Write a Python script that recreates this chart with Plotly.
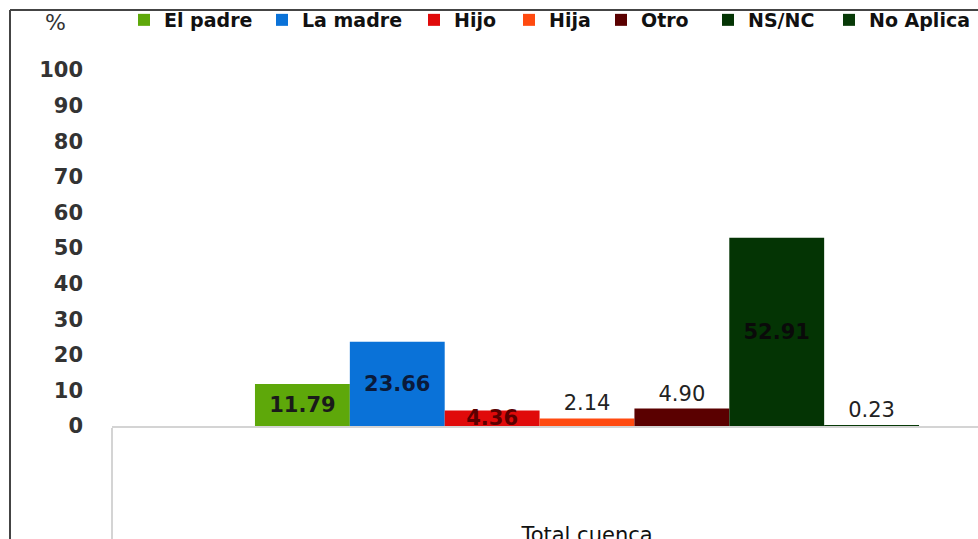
import plotly.graph_objects as go

categories = ["Total cuenca"]
series_names = ["El padre", "La madre", "Hijo", "Hija", "Otro", "NS/NC", "No Aplica"]
series_values = [11.79, 23.66, 4.36, 2.14, 4.90, 52.91, 0.23]
series_colors = ["#5ea80a", "#0a72d8", "#e00a0a", "#ff4a10", "#5a0000", "#043404", "#083a08"]
label_pos = ["inside", "inside", "inside", "outside", "outside", "inside", "outside"]
label_colors = ["#1a1a1a", "#0a1a3a", "#5a0000", "#222222", "#222222", "#0a0a0a", "#222222"]
label_bold = [True, True, True, False, False, True, False]
y_ticks = [0, 10, 20, 30, 40, 50, 60, 70, 80, 90, 100]

# layout: left pixel where each legend entry starts (Excel spaced them unevenly)
legend_starts = [124, 262, 414, 509, 601, 708, 829]

FONT = "DejaVu Sans"
W, H = 978, 539
L, R, T, B = 112, 0, 70, 113
pw, ph = W - L - R, H - T - B


def px_x(p):
    return (p - L) / pw


def px_y(p):
    return (H - B - p) / ph


fig = go.Figure()
legend_layout = {}
for i, (name, val, col, pos, lc, bold) in enumerate(zip(series_names, series_values, series_colors,
                                                        label_pos, label_colors, label_bold)):
    lname = "legend" if i == 0 else f"legend{i + 1}"
    fig.add_trace(go.Bar(
        name=name, x=categories, y=[val], marker=dict(color=col, line=dict(width=0)),
        text=[f"{val:.2f}"], textposition=pos, insidetextanchor="middle",
        textangle=0, constraintext="none", cliponaxis=False, legend=lname, showlegend=True,
        textfont=dict(family=FONT, size=21, color=lc, weight="bold" if bold else "normal"),
    ))
    legend_layout[lname] = dict(
        orientation="h", x=px_x(legend_starts[i]), xanchor="left", y=px_y(1), yanchor="top",
        font=dict(family=FONT, size=19, color="#111111", weight="bold"),
        bgcolor="rgba(0,0,0,0)", borderwidth=0,
    )

fig.update_layout(
    width=W, height=H, showlegend=True,
    margin=dict(l=L, r=R, t=T, b=B, pad=0, autoexpand=False),
    paper_bgcolor="white", plot_bgcolor="white",
    barmode="group", bargap=0.301, bargroupgap=0,
    font=dict(family=FONT, size=20, color="#404040"),
    xaxis=dict(range=[-0.5, -0.5 + pw / 950], showline=True, linecolor="#d4d4d4", linewidth=1.5,
               tickson="boundaries", ticks="outside", ticklen=B, tickcolor="#d4d4d4", tickwidth=1.5,
               ticklabelstandoff=89, tickfont=dict(family=FONT, size=21, color="#111111"),
               showgrid=False, zeroline=False, fixedrange=True),
    yaxis=dict(range=[0, 100], tickvals=y_ticks, showgrid=False, zeroline=False, showline=False,
               ticks="", ticklabelstandoff=28,
               tickfont=dict(family=FONT, size=21, color="#333333", weight="bold"),
               fixedrange=True),
    shapes=[
        dict(type="line", xref="paper", yref="paper", x0=px_x(10), x1=px_x(990), y0=px_y(10), y1=px_y(10),
             line=dict(color="#444444", width=2)),
        dict(type="line", xref="paper", yref="paper", x0=px_x(10), x1=px_x(10), y0=px_y(10), y1=px_y(560),
             line=dict(color="#444444", width=2)),
    ],
    annotations=[
        dict(text="%", xref="paper", yref="paper", x=px_x(55), y=px_y(23), xanchor="center",
             yanchor="middle", showarrow=False, font=dict(family=FONT, size=22, color="#333333")),
    ],
    **legend_layout,
)

fig.write_html(
    "out.html",
    config={"displayModeBar": False},
    post_script="document.body.style.margin='0';document.body.style.overflow='hidden';",
)
